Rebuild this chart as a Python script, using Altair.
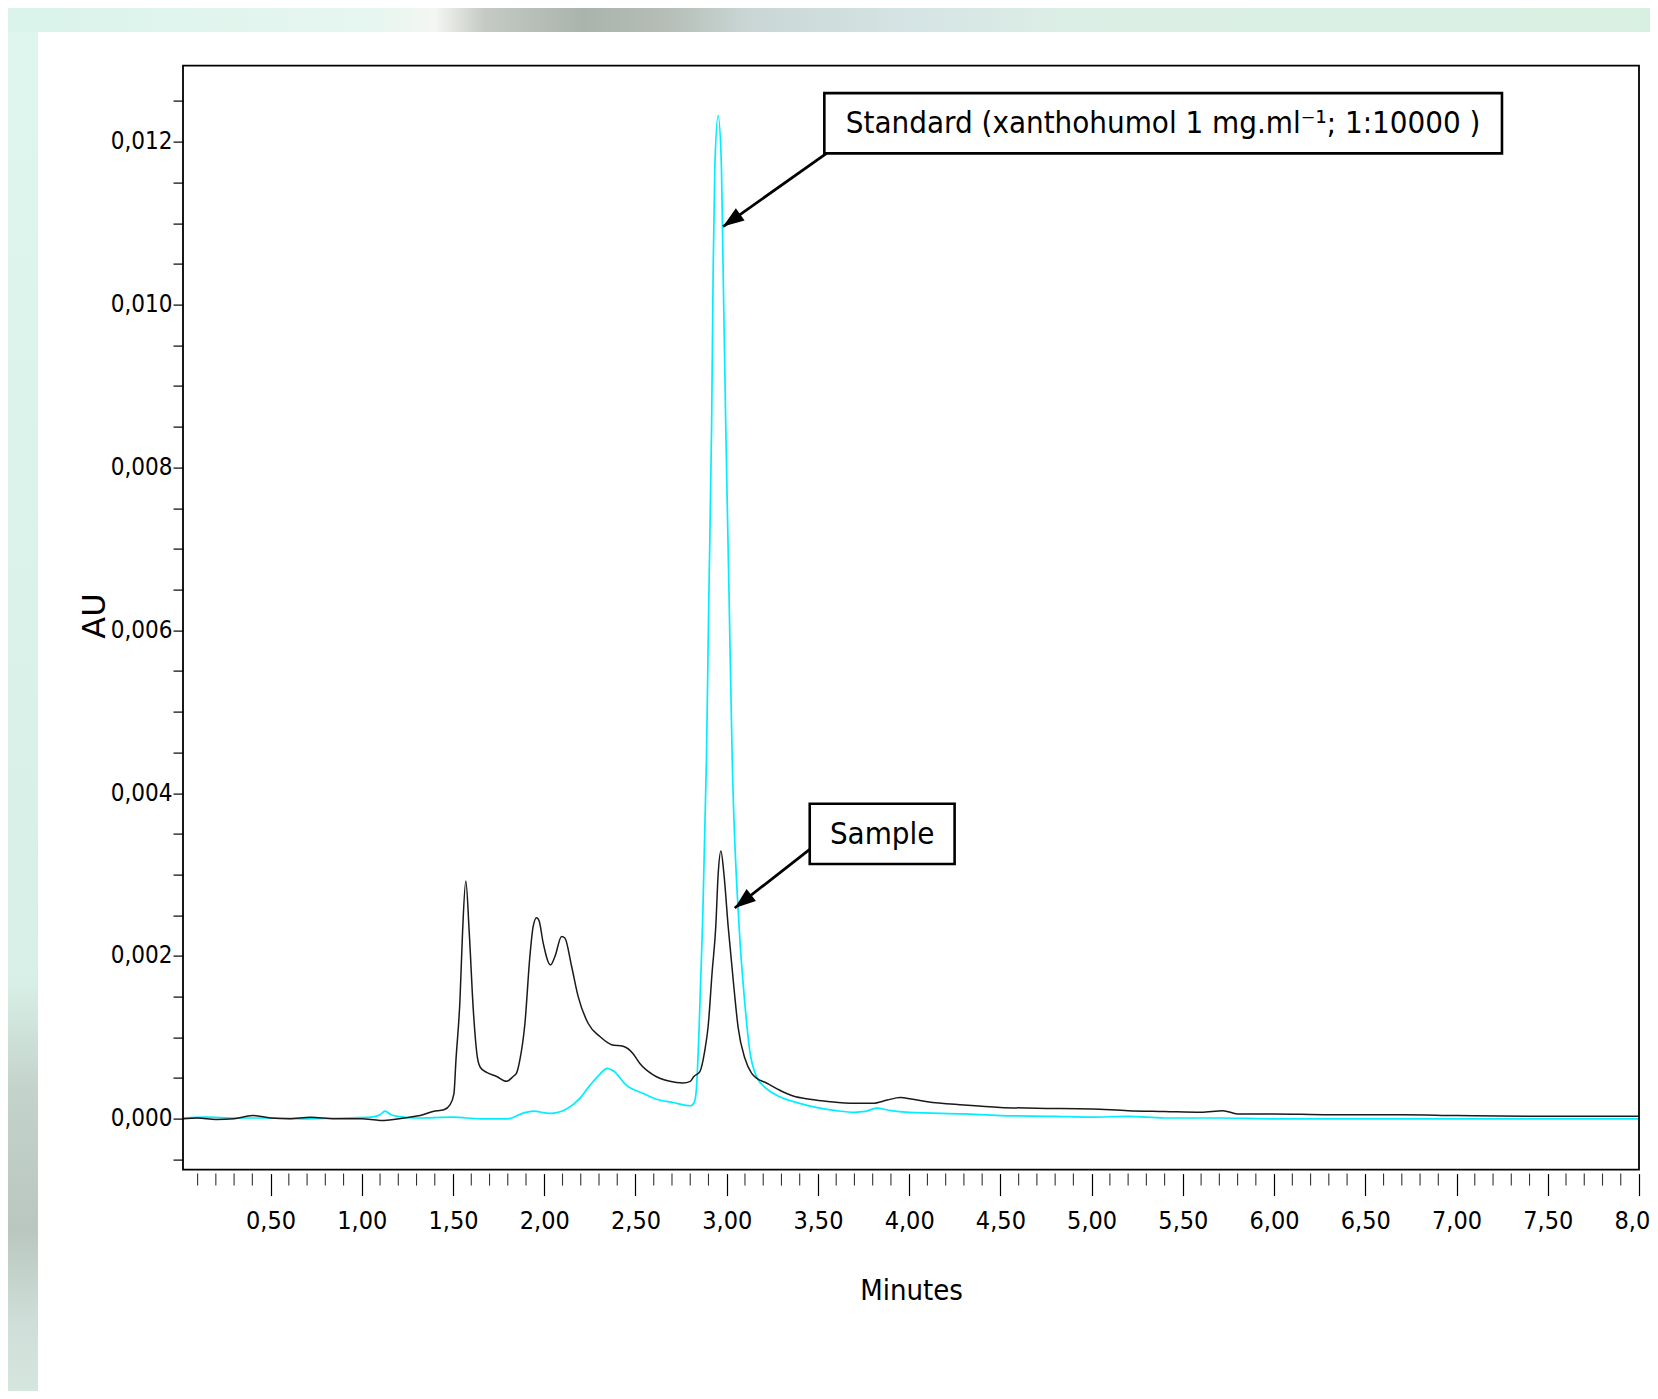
import math
import altair as alt
import pandas as pd

# ---------------- data ----------------
sample_t = [0.02, 0.10, 0.20, 0.30, 0.40, 0.50, 0.60, 0.72, 0.85, 1.00, 1.10, 1.26, 1.32, 1.39,
            1.45, 1.483, 1.505, 1.516, 1.538, 1.552, 1.570, 1.589, 1.611, 1.633, 1.650, 1.684,
            1.739, 1.793, 1.830, 1.848, 1.866, 1.894, 1.921, 1.939, 1.958, 1.972, 1.994, 2.034,
            2.058, 2.095, 2.113, 2.150, 2.186, 2.241, 2.305, 2.369, 2.432, 2.487, 2.524, 2.597,
            2.688, 2.761, 2.800, 2.820, 2.853, 2.880, 2.898, 2.920, 2.940, 2.953, 2.968, 2.985,
            3.008, 3.040, 3.062, 3.100, 3.136, 3.163, 3.218, 3.291, 3.364, 3.455, 3.565, 3.70,
            3.80, 3.88, 3.95, 4.02, 4.10, 4.30, 4.50, 4.70, 5.00, 5.20, 5.40, 5.60, 5.72, 5.80,
            6.00, 6.30, 6.70, 7.00, 7.50, 8.00]
sample_au = [0.0, 0.00001, -0.00001, 0.0, 0.00004, 0.00001, 0.0, 0.00002, 0.0, 0.0, -0.00002,
             0.00002, 0.00004, 0.00009, 0.00011, 0.00017, 0.00031, 0.00072, 0.00146, 0.00228,
             0.00292, 0.00228, 0.00134, 0.00076, 0.00063, 0.00057, 0.00052, 0.00046, 0.00052,
             0.00056, 0.00072, 0.00117, 0.00199, 0.00236, 0.00247, 0.00243, 0.00216, 0.00189,
             0.00199, 0.00224, 0.00222, 0.00187, 0.00150, 0.00117, 0.00101, 0.00091, 0.00089,
             0.00080, 0.00068, 0.00054, 0.00046, 0.00044, 0.00046, 0.00052, 0.00058, 0.00084,
             0.00113, 0.00180, 0.00236, 0.00300, 0.00329, 0.00300, 0.00236, 0.00160, 0.00113,
             0.00074, 0.00056, 0.00050, 0.00044, 0.00035, 0.00028, 0.00024, 0.00021, 0.00019,
             0.00019, 0.00023, 0.00026, 0.00024, 0.00021, 0.00017, 0.00014, 0.00013, 0.00012,
             0.00010, 0.00009, 0.00008, 0.00010, 0.00006, 0.00006, 0.00005, 0.00005, 0.00004,
             0.00003, 0.00003]

standard_t = [0.02, 0.15, 0.30, 0.50, 0.70, 0.90, 1.05, 1.10, 1.127, 1.16, 1.20, 1.30, 1.50,
              1.65, 1.80, 1.884, 1.939, 2.031, 2.122, 2.195, 2.250, 2.305, 2.345, 2.378, 2.451,
              2.542, 2.615, 2.706, 2.802, 2.822, 2.834, 2.849, 2.867, 2.889, 2.902, 2.917, 2.926,
              2.935, 2.953, 2.971, 2.980, 2.995, 3.013, 3.030, 3.068, 3.100, 3.126, 3.163, 3.218,
              3.291, 3.400, 3.510, 3.60, 3.70, 3.76, 3.82, 3.90, 4.00, 4.30, 4.50, 4.80, 5.00,
              5.20, 5.40, 5.70, 6.00, 6.50, 7.00, 7.50, 8.00]
standard_au = [0.00001, 0.00002, 0.00001, 0.00001, 0.0, 0.00001, 0.00002, 0.00005, 0.000095,
               0.00005, 0.00003, 0.00001, 0.00002, 0.0, 0.0, 0.00007, 0.000095, 0.000066,
               0.00012, 0.00025, 0.00041, 0.00055, 0.00062, 0.00059, 0.00041, 0.00031, 0.00024,
               0.00020, 0.00016, 0.00020, 0.00037, 0.00113, 0.00236, 0.00443, 0.00641, 0.00848,
               0.01047, 0.01170, 0.01232, 0.01170, 0.01047, 0.00848, 0.00641, 0.00443, 0.00236,
               0.00140, 0.00084, 0.00052, 0.00037, 0.00027, 0.00019, 0.00013, 0.00010, 0.00008,
               0.00009, 0.00013, 0.00010, 0.00008, 0.00006, 0.00004, 0.00003, 0.00002, 0.00003,
               0.00001, 0.00001, 0.0, 0.0, 0.0, 0.0, 0.0]

x_major = [0.5, 1.0, 1.5, 2.0, 2.5, 3.0, 3.5, 4.0, 4.5, 5.0, 5.5, 6.0, 6.5, 7.0, 7.5, 8.0]
x_minor = [round(i / 10, 1) for i in range(1, 80) if i % 5]
y_ticks = [round(i * 0.0005, 4) for i in range(-1, 26)]

# annotation boxes (data units)
box_labels = ["Standard (xanthohumol 1 mg.ml\u207b\u00b9; 1:10000 )", "Sample"]
box_t1 = [3.535, 3.455]
box_t2 = [7.249, 4.249]
box_au1 = [0.011857, 0.003130]
box_au2 = [0.012597, 0.003869]
box_text_t = [5.392, 3.852]
box_text_au = [0.012227, 0.003500]
arrow_start_t = [3.547, 3.455]
arrow_start_au = [0.011857, 0.003310]
arrow_tip_t = [2.980, 3.044]
arrow_tip_au = [0.010958, 0.002589]

# ---------------- geometry / style ----------------
W, H = 1456, 1104
X_DOM = [0.02, 8.0]
Y_DOM = [-0.000624, 0.012935]
NARROW = "Liberation Sans Narrow, DejaVu Sans Condensed, Arial Narrow, sans-serif"
ANNOT_FONT = "DejaVu Sans Condensed, DejaVu Sans, sans-serif"

xs = alt.Scale(domain=X_DOM, nice=False, zero=False)
ys = alt.Scale(domain=Y_DOM, nice=False, zero=False)

x_axis = alt.Axis(
    values=x_major,
    labelExpr="replace(format(datum.value, '.2f'), '.', ',')",
    tickSize=22, tickColor="black", tickWidth=1.2, domain=False, grid=False,
    offset=4, labelFont=NARROW, labelFontSize=25, labelColor="black",
    labelPadding=13, labelFlush=False, labelOverlap=False,
    title="Minutes", titleFont=NARROW, titleFontSize=29, titleFontWeight="normal",
    titleColor="black", titleBaseline="alphabetic", titleY=126, zindex=1,
)
y_axis = alt.Axis(
    values=y_ticks,
    labelExpr="abs(datum.value / 0.002 - round(datum.value / 0.002)) < 0.000001 ? "
              "replace(format(datum.value, '.3f'), '.', ',') : ''",
    tickSize=10, tickColor="black", tickWidth=1.2, domain=False, grid=False,
    labelFont=NARROW, labelFontSize=24, labelColor="black", labelPadding=1,
    labelOverlap=False, labelFlush=False,
    title="AU", titleFont="DejaVu Sans", titleFontSize=32, titleFontWeight="normal",
    titleColor="black", titleAngle=-90, titleAlign="center", titleBaseline="alphabetic",
    titleX=-79, titleY=550, zindex=1,
)


def X(f):
    return alt.X(f, type="quantitative", scale=xs, axis=x_axis)


def Y(f):
    return alt.Y(f, type="quantitative", scale=ys, axis=y_axis)


one = pd.DataFrame({"k": [0]})

# decorative slide background strips (blurred photo border around the white slide)
top_strip = alt.Chart(one).mark_rect(
    color=alt.Gradient(gradient="linear", x1=0, x2=1, y1=0, y2=0, stops=[
        alt.GradientStop(color="#d9f3ea", offset=0),
        alt.GradientStop(color="#e6f6f0", offset=0.22),
        alt.GradientStop(color="#f4f6f2", offset=0.26),
        alt.GradientStop(color="#c5cbc4", offset=0.29),
        alt.GradientStop(color="#aab3ac", offset=0.35),
        alt.GradientStop(color="#b5bdb6", offset=0.40),
        alt.GradientStop(color="#c9d6d4", offset=0.45),
        alt.GradientStop(color="#d5e4e4", offset=0.55),
        alt.GradientStop(color="#dcefe6", offset=0.65),
        alt.GradientStop(color="#d8f0e2", offset=1.0),
    ])).encode(x=alt.value(-175), x2=alt.value(1467), y=alt.value(-57.6), y2=alt.value(-33.6))
left_strip = alt.Chart(one).mark_rect(
    color=alt.Gradient(gradient="linear", x1=0, x2=0, y1=0, y2=1, stops=[
        alt.GradientStop(color="#dff6ee", offset=0),
        alt.GradientStop(color="#d7efe6", offset=0.70),
        alt.GradientStop(color="#c3d2cb", offset=0.78),
        alt.GradientStop(color="#b9c7c0", offset=0.88),
        alt.GradientStop(color="#cfded8", offset=0.95),
        alt.GradientStop(color="#d5e6df", offset=1.0),
    ])).encode(x=alt.value(-175), x2=alt.value(-145), y=alt.value(-33.6), y2=alt.value(1326))

std_df = pd.DataFrame({"t": standard_t, "au": standard_au})
smp_df = pd.DataFrame({"t": sample_t, "au": sample_au})

std_line = alt.Chart(std_df).mark_line(
    interpolate="monotone", color="#00eeff", strokeWidth=1.7).encode(x=X("t"), y=Y("au"))
smp_line = alt.Chart(smp_df).mark_line(
    interpolate="monotone", color="#1a1a1a", strokeWidth=1.5).encode(x=X("t"), y=Y("au"))

minor_df = pd.DataFrame({"t": x_minor})
minor_ticks = alt.Chart(minor_df).mark_rule(color="#333333", strokeWidth=1.1).encode(
    x=X("t"), y=alt.value(H + 4), y2=alt.value(H + 16))

# plot frame
frame = alt.Chart(one).mark_rect(filled=False, stroke="black", strokeWidth=1.8).encode(
    x=alt.value(0), x2=alt.value(W), y=alt.value(0), y2=alt.value(H))

# annotations
px_t = W / (X_DOM[1] - X_DOM[0])
px_au = H / (Y_DOM[1] - Y_DOM[0])
angles = []
for t0, a0, t1, a1 in zip(arrow_start_t, arrow_start_au, arrow_tip_t, arrow_tip_au):
    dx = (t1 - t0) * px_t
    dy = -(a1 - a0) * px_au
    angles.append(math.degrees(math.atan2(dx, -dy)) % 360)

box_df = pd.DataFrame({"t1": box_t1, "t2": box_t2, "a1": box_au1, "a2": box_au2,
                       "tt": box_text_t, "ta": box_text_au, "label": box_labels})
arrow_df = pd.DataFrame({"t0": arrow_start_t, "a0": arrow_start_au,
                         "t1": arrow_tip_t, "a1": arrow_tip_au, "ang": angles})

boxes = alt.Chart(box_df).mark_rect(fill="white", stroke="black", strokeWidth=2.6).encode(
    x=X("t1"), x2=alt.X2("t2"), y=Y("a1"), y2=alt.Y2("a2"))
box_text = alt.Chart(box_df).mark_text(
    font=ANNOT_FONT, fontSize=31, color="black", align="center", baseline="middle", dy=1
).encode(x=X("tt"), y=Y("ta"), text="label:N")
arrow_lines = alt.Chart(arrow_df).mark_rule(color="black", strokeWidth=2.8).encode(
    x=X("t0"), x2=alt.X2("t1"), y=Y("a0"), y2=alt.Y2("a1"))
arrow_heads = alt.Chart(arrow_df).mark_point(
    shape="M0,0 L-0.36,1 L0.36,1 Z", filled=True, color="black", opacity=1, size=1764
).encode(x=X("t1"), y=Y("a1"), angle=alt.Angle("ang:Q", scale=None))

chart = alt.layer(
    top_strip, left_strip,
    std_line, smp_line, minor_ticks, frame,
    arrow_lines, arrow_heads, boxes, box_text,
).properties(
    width=W, height=H,
    padding={"left": 175, "top": 57.6, "right": 11, "bottom": 221.4},
    autosize=alt.AutoSizeParams(type="none"),
    background="white",
).configure_view(stroke=None)

chart.save("out.html", embed_options={"renderer": "svg", "actions": False})
